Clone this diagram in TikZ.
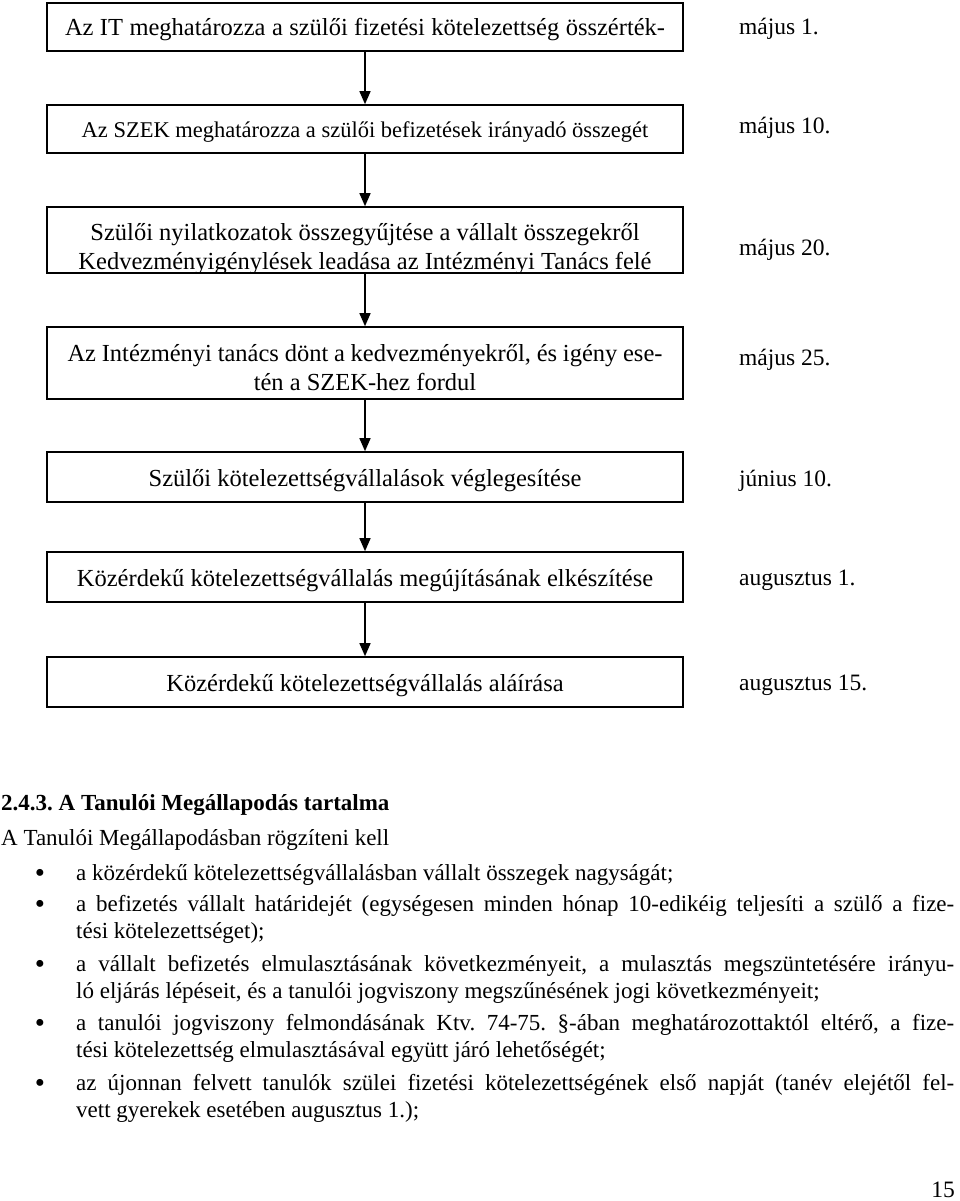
\documentclass[tikz,border=0pt]{standalone}
\usepackage{fontspec}
\setmainfont{Liberation Serif}
\usetikzlibrary{arrows.meta}
\newcommand\myfs{\fontsize{23}{29}\selectfont}
\newcommand\datefs{\fontsize{23.5}{29}\selectfont}
\newcommand\boxfs{\fontsize{24.5}{29}\selectfont}
\newcommand\smallboxfs{\fontsize{22.5}{29}\selectfont}
\newcommand\bulfs{\fontsize{29}{29}\selectfont}
\frenchspacing
\begin{document}
\begin{tikzpicture}[x=1pt,y=-1pt,
  flowbox/.style={draw, line width=1.6pt, minimum width=636pt, inner sep=0pt, align=center, font=\boxfs},
  onerow/.style={text height=22pt, text depth=4pt},
  boxtxt/.style={inner sep=0pt, align=center, font=\boxfs},
  datelbl/.style={anchor=base west, inner sep=0pt, font=\datefs},
  txt/.style={anchor=base west, inner sep=0pt, font=\myfs},
  bul/.style={anchor=base, inner sep=0pt, font=\bulfs},
  arr/.style={line width=1.4pt, -{Triangle[width=11pt,length=13pt]}}]
\useasboundingbox (0,0) rectangle (960,1201);
% flow boxes
\node[flowbox, onerow, minimum height=48pt] (b1) at (365,27) {\makebox[600pt][s]{Az IT meghatározza a szülői fizetési kötelezettség összérték-}};
\node[flowbox, onerow, minimum height=48pt, font=\smallboxfs] (b2) at (365,129) {Az SZEK meghatározza a szülői befizetések irányadó összegét};
\node[flowbox, minimum height=66pt] (b3) at (365,240) {};
\begin{scope}
\clip ([xshift=0.8pt,yshift=2.5pt]b3.south west) rectangle ([xshift=-0.8pt,yshift=-0.8pt]b3.north east);
\node[boxtxt] (t3) at (365,249) {Szülői nyilatkozatok összegyűjtése a vállalt összegekről\\Kedvezményigénylések leadása az Intézményi Tanács felé};
\end{scope}
\node[flowbox, minimum height=72pt] (b4) at (365,363) {};
\node[boxtxt] (t4) at (365,368) {\makebox[595pt][s]{Az Intézményi tanács dönt a kedvezményekről, és igény ese-}\\tén a SZEK-hez fordul};
\node[flowbox, onerow, minimum height=50pt] (b5) at (365,477) {Szülői kötelezettségvállalások véglegesítése};
\node[flowbox, onerow, minimum height=50pt] (b6) at (365,577) {Közérdekű kötelezettségvállalás megújításának elkészítése};
\node[flowbox, onerow, minimum height=50pt] (b7) at (365,682) {Közérdekű kötelezettségvállalás aláírása};
% arrows
\draw[arr] (b1.south) -- (b2.north);
\draw[arr] (b2.south) -- (b3.north);
\draw[arr] (b3.south) -- (b4.north);
\draw[arr] (b4.south) -- (b5.north);
\draw[arr] (b5.south) -- (b6.north);
\draw[arr] (b6.south) -- (b7.north);
% dates
\node[datelbl] (d1) at (739,35) {május 1.};
\node[datelbl] (d2) at (739,134) {május 10.};
\node[datelbl] (d3) at (739,255) {május 20.};
\node[datelbl] (d4) at (739,365) {május 25.};
\node[datelbl] (d5) at (739,486) {június 10.};
\node[datelbl] (d6) at (739,585) {augusztus 1.};
\node[datelbl] (d7) at (739,690) {augusztus 15.};
% text block
\node[txt, font=\myfs\bfseries] (h) at (1,810) {2.4.3. A Tanulói Megállapodás tartalma};
\node[txt] (p) at (1,845) {A Tanulói Megállapodásban rögzíteni kell};
\node[bul] (u1) at (40,882) {•};
\node[txt] (l1) at (76,880) {a közérdekű kötelezettségvállalásban vállalt összegek nagyságát;};
\node[bul] (u2) at (40,913) {•};
\node[txt] (l2) at (76,911) {\makebox[878pt][s]{a befizetés vállalt határidejét (egységesen minden hónap 10-edikéig teljesíti a szülő a fize-}};
\node[txt] (l3) at (76,938) {tési kötelezettséget);};
\node[bul] (u3) at (40,973) {•};
\node[txt] (l4) at (76,971) {\makebox[878pt][s]{a vállalt befizetés elmulasztásának következményeit, a mulasztás megszüntetésére irányu-}};
\node[txt] (l5) at (76,998) {ló eljárás lépéseit, és a tanulói jogviszony megszűnésének jogi következményeit;};
\node[bul] (u4) at (40,1032) {•};
\node[txt] (l6) at (76,1030) {\makebox[878pt][s]{a tanulói jogviszony felmondásának Ktv. 74-75. §-ában meghatározottaktól eltérő, a fize-}};
\node[txt] (l7) at (76,1057) {tési kötelezettség elmulasztásával együtt járó lehetőségét;};
\node[bul] (u5) at (40,1092) {•};
\node[txt] (l8) at (76,1090) {\makebox[878pt][s]{az újonnan felvett tanulók szülei fizetési kötelezettségének első napját (tanév elejétől fel-}};
\node[txt] (l9) at (76,1117) {vett gyerekek esetében augusztus 1.);};
\node[anchor=base east, inner sep=0pt, font=\datefs] (pg) at (955,1197) {15};
\end{tikzpicture}
\end{document}
